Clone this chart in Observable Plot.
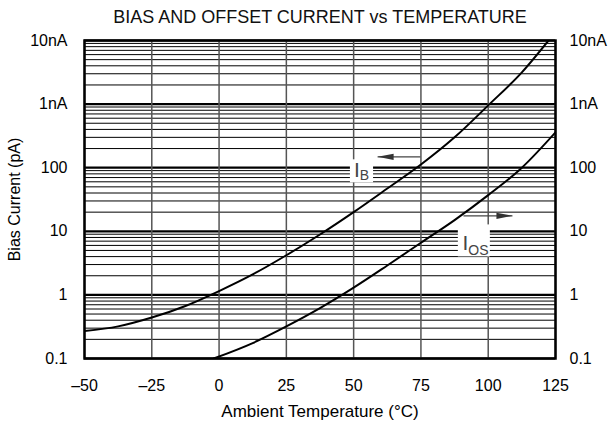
<!DOCTYPE html>
<html><head><meta charset="utf-8">
<script src="https://cdn.jsdelivr.net/npm/d3@7"></script>
<script src="https://cdn.jsdelivr.net/npm/@observablehq/plot@0.6"></script>
<style>body{margin:0;background:#fff}#chart svg{display:block}</style>
</head><body><div id="chart"></div>
<script>
// ---- data ----
const title = "BIAS AND OFFSET CURRENT vs TEMPERATURE";
const xLabel = "Ambient Temperature (°C)";
const yLabel = "Bias Current (pA)";

const xTicks = [-50, -25, 0, 25, 50, 75, 100, 125];
const xTickLabels = ["–50", "–25", "0", "25", "50", "75", "100", "125"];
const yTicks = [0.1, 1, 10, 100, 1000, 10000];
const yTickLabels = ["0.1", "1", "10", "100", "1nA", "10nA"];

// I_B (bias current), pA
const ibTemp  = [-50, -37.5, -25, -12.5, 0, 12.5, 25, 37.5, 50, 62.5, 75, 87.5, 100, 112.5, 122.4];
const ibValue = [0.27, 0.32, 0.44, 0.67, 1.15, 2.1, 4.2, 8.9, 20, 47, 112, 300, 955, 3160, 10000];
// I_OS (offset current), pA
const iosTemp  = [-2, 12.5, 25, 37.5, 50, 62.5, 75, 87.5, 100, 112.5, 125];
const iosValue = [0.1, 0.175, 0.32, 0.62, 1.3, 2.9, 6.6, 15, 37, 100, 360];

// annotations
const ibLabel = {main: "I", sub: "B", t: 51.2, v: 72};
const iosLabel = {main: "I", sub: "OS", t: 91.5, v: 5.1};
const boxT1 = [48.8, 88.9], boxT2 = [57.4, 100.8];
const boxV1 = [57.8, 3.96], boxV2 = [133, 12.6];
const arrowTail = [74.8, 90.8];
const arrowTip = [58.9, 109];
const arrowLevel = [148, 17.5];
const arrowRotate = [0, 180];

// ---- build ----
const ib = ibTemp.map((t, i) => ({t, v: ibValue[i]}));
const ios = iosTemp.map((t, i) => ({t, v: iosValue[i]}));
const minor = [];
for (let k = 0; k < yTicks.length - 1; k++) for (let m = 2; m <= 9; m++) minor.push(yTicks[k] * m);
const idx2 = [0, 1];
const font = "'Liberation Sans', Arial, Helvetica, sans-serif";
const head = {draw(ctx) { ctx.moveTo(0, 0); ctx.lineTo(16, -3.2); ctx.lineTo(16, 3.2); ctx.closePath(); }};

const chart = Plot.plot({
  width: 609, height: 423,
  marginLeft: 84, marginRight: 54, marginTop: 40, marginBottom: 65,
  style: {fontFamily: font, fontSize: "16px", color: "#000", background: "#fff"},
  x: {domain: [-50, 125]},
  y: {type: "log", domain: [0.1, 10000]},
  marks: [
    Plot.ruleY(minor, {stroke: "#000", strokeWidth: 1}),
    Plot.ruleY(yTicks, {stroke: "#000", strokeWidth: 2.2}),
    Plot.ruleX(xTicks, {stroke: "#555", strokeWidth: 1.5}),
    Plot.rect(idx2, {x1: i => boxT1[i], x2: i => boxT2[i], y1: i => boxV1[i], y2: i => boxV2[i], fill: "#fff"}),
    Plot.line(ib, {x: "t", y: "v", curve: "monotone-x", stroke: "#000", strokeWidth: 2, clip: true}),
    Plot.line(ios, {x: "t", y: "v", curve: "monotone-x", stroke: "#000", strokeWidth: 2, clip: true}),
    Plot.link(idx2, {x1: i => arrowTail[i], x2: i => arrowTip[i], y1: i => arrowLevel[i], y2: i => arrowLevel[i], stroke: "#444", strokeWidth: 1.3}),
    Plot.dot(idx2, {x: i => arrowTip[i], y: i => arrowLevel[i], symbol: head, rotate: i => arrowRotate[i], fill: "#333", stroke: "none"}),
    Plot.text([ibLabel, iosLabel], {x: "t", y: "v", text: "main", fontSize: 21, textAnchor: "middle", lineAnchor: "bottom", fill: "#444"}),
    Plot.text([ibLabel], {x: "t", y: "v", text: "sub", dx: 3, dy: 3.7, fontSize: 14, textAnchor: "start", lineAnchor: "bottom", fill: "#444"}),
    Plot.text([iosLabel], {x: "t", y: "v", text: "sub", dx: 3, dy: 5, fontSize: 14, textAnchor: "start", lineAnchor: "bottom", fill: "#444"}),
    Plot.frame({stroke: "#000", strokeWidth: 2.5}),
    Plot.axisX({ticks: xTicks, tickFormat: d => xTickLabels[xTicks.indexOf(d)], tickSize: 0, tickPadding: 21, fontSize: 16, label: null}),
    Plot.axisY({anchor: "left", ticks: yTicks, tickFormat: d => yTickLabels[yTicks.indexOf(d)], tickSize: 0, tickPadding: 17, fontSize: 16, label: null}),
    Plot.axisY({anchor: "right", ticks: yTicks, tickFormat: d => yTickLabels[yTicks.indexOf(d)], tickSize: 0, tickPadding: 14, fontSize: 16, label: null}),
    Plot.text([title], {frameAnchor: "top", dy: -18, lineAnchor: "bottom", textAnchor: "middle", fontSize: 18, fill: "#111"}),
    Plot.text([xLabel], {frameAnchor: "bottom", dy: 58, lineAnchor: "bottom", textAnchor: "middle", fontSize: 17}),
    Plot.text([yLabel], {frameAnchor: "left", dx: -70, rotate: -90, lineAnchor: "middle", textAnchor: "middle", fontSize: 16})
  ]
});
document.getElementById("chart").append(chart);
</script>
</body></html>
